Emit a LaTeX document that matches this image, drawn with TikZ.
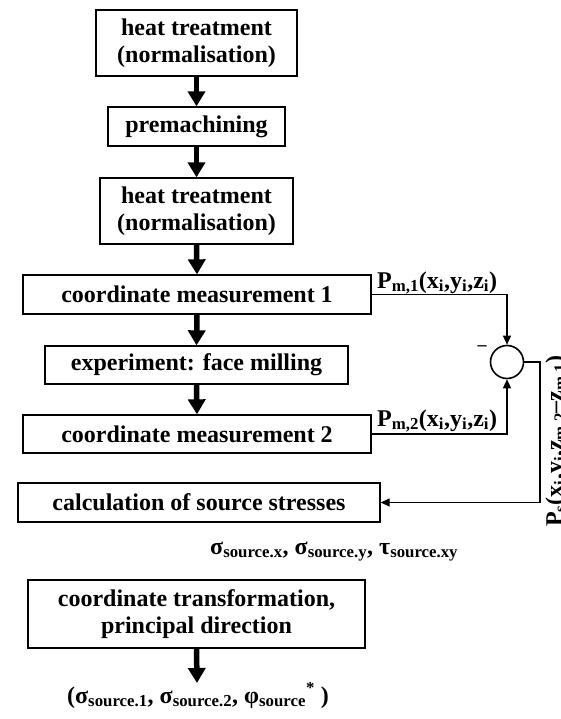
\documentclass[tikz,border=0pt]{standalone}
\usepackage{fontspec}
\setmainfont{Liberation Serif}
\usetikzlibrary{arrows.meta}
\begin{document}
\begin{tikzpicture}[x=1pt,y=-1pt,
  box/.style={draw,line width=1.3pt,inner sep=0pt,align=center,
    font=\bfseries\fontsize{24}{27}\selectfont},
  lab/.style={inner sep=0pt,font=\bfseries\fontsize{24}{27}\selectfont},
  bigarrow/.style={line width=5.5pt,-{Triangle[width=17pt,length=15pt]}},
  thinarrow/.style={line width=1.3pt,-{Triangle[width=8pt,length=9pt]}}]
\useasboundingbox (0,0) rectangle (561,719);
\clip (0,0) rectangle (561,719);
% main chain
\node[box,minimum width=201pt,minimum height=66pt] (b1) at (196.5,43) {heat treatment\\(normalisation)};
\node[box,minimum width=177pt,minimum height=39pt] (b2) at (196.5,126.5) {premachining};
\node[box,minimum width=193pt,minimum height=66pt] (b3) at (196.5,211) {heat treatment\\(normalisation)};
\node[box,minimum width=348pt,minimum height=39pt] (c1) at (197,294.5) {coordinate measurement 1};
\node[box,minimum width=303pt,minimum height=38pt] (ex) at (196.5,365) {experiment: face milling};
\node[box,minimum width=348pt,minimum height=38pt] (c2) at (197,434) {coordinate measurement 2};
\node[box,minimum width=362pt,minimum height=39pt] (calc) at (199,502.5) {calculation of source stresses};
\node[box,minimum width=337pt,minimum height=68pt] (tr) at (196.5,614) {coordinate transformation,\\principal direction};
\coordinate (out) at (197,683);
\draw[bigarrow] (b1.south) -- (b2.north);
\draw[bigarrow] (b2.south) -- (b3.north);
\draw[bigarrow] (b3.south) -- (c1.north);
\draw[bigarrow] (c1.south) -- (ex.north);
\draw[bigarrow] (ex.south) -- (c2.north);
\draw[bigarrow] (tr.south) -- (out);
% summing junction
\node[draw,circle,line width=1.6pt,minimum size=33pt,inner sep=0pt] (sum) at (507,362) {};
\draw[thinarrow] (c1.east) -| (sum.north);
\draw[thinarrow] (c2.east) -| (sum.south);
\coordinate (corner) at (540,362);
\draw[thinarrow] (sum.east) -- (corner) |- (calc.east);
\node[lab,font=\bfseries\fontsize{18}{20}\selectfont] (minus) at (482,348) {–};
% labels
\node[lab,anchor=base west] (p1) at (377,288) {P\textsubscript{m,1}(x\textsubscript{i},y\textsubscript{i},z\textsubscript{i})};
\node[lab,anchor=base west] (p2) at (377,426) {P\textsubscript{m,2}(x\textsubscript{i},y\textsubscript{i},z\textsubscript{i})};
\node[lab,rotate=90,anchor=base west] (ps) at (562,527) {P\textsubscript{s}(x\textsubscript{i},y\textsubscript{i},z\textsubscript{m,2}–z\textsubscript{m,1})};
\node[lab,anchor=base west] (sig) at (210,554) {σ\textsubscript{source.x}, σ\textsubscript{source.y}, τ\textsubscript{source.xy}};
\node[lab,anchor=base west] (res) at (67,703) {(σ\textsubscript{source.1}, σ\textsubscript{source.2}, φ\textsubscript{source}\textsuperscript{*}~)};
\end{tikzpicture}
\end{document}
